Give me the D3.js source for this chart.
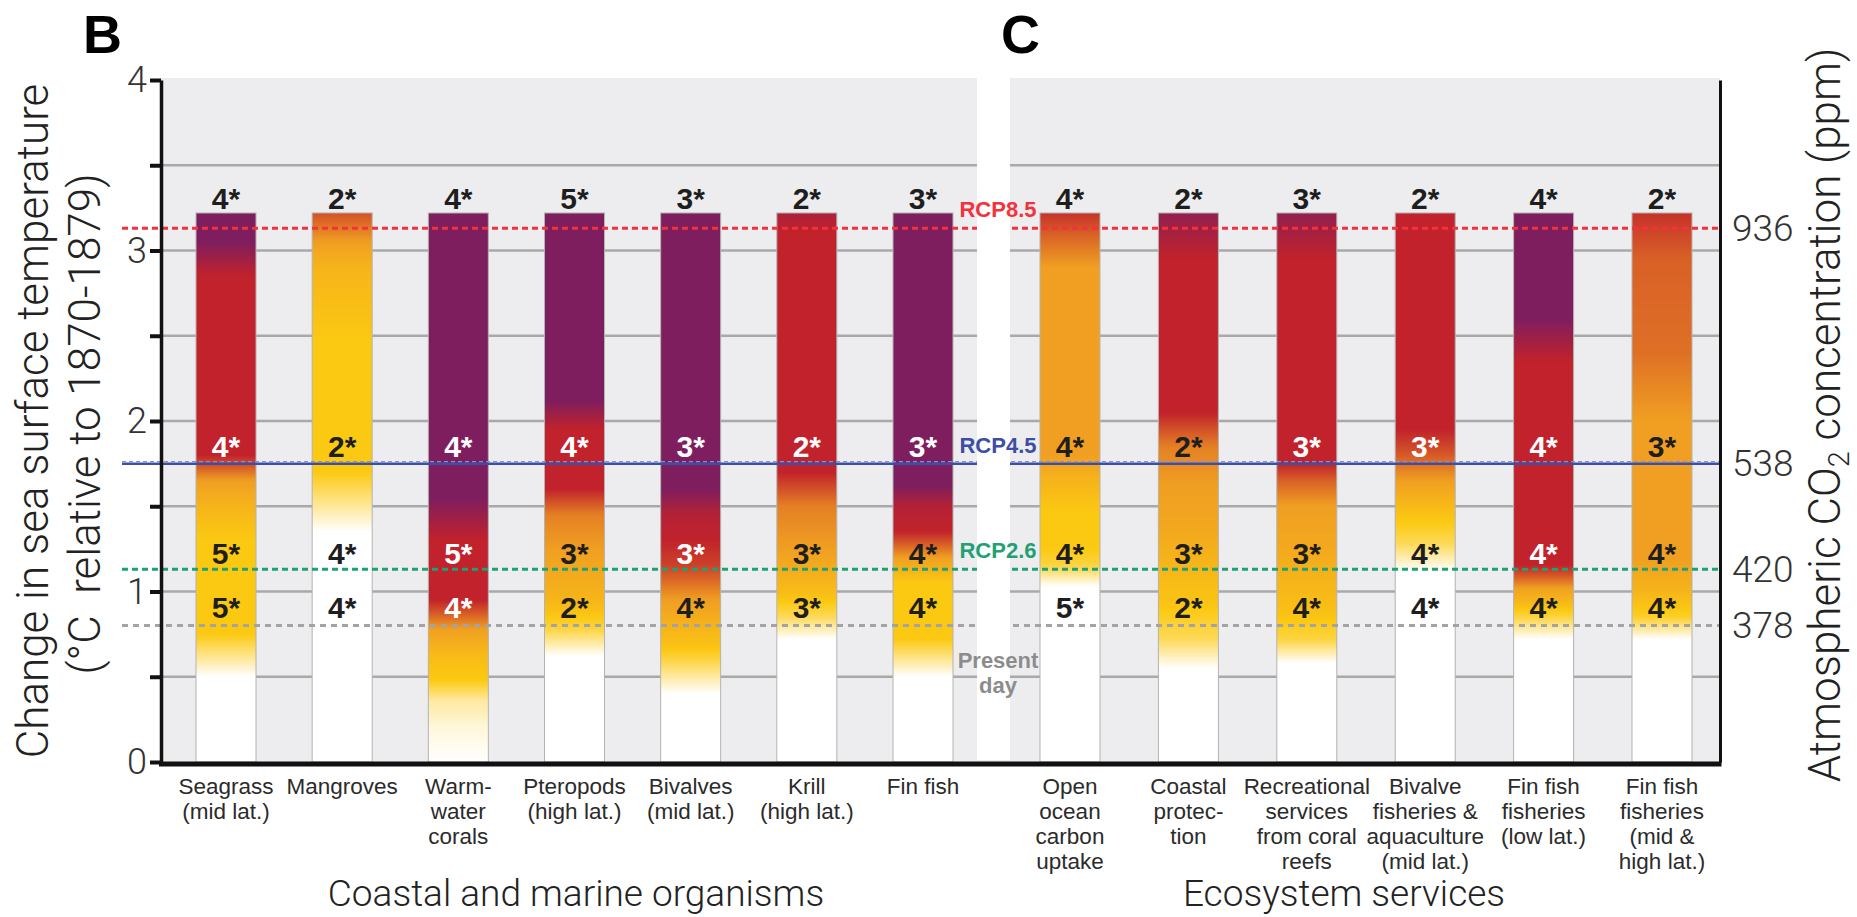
<!DOCTYPE html>
<html>
<head>
<meta charset="utf-8">
<script src="https://cdn.jsdelivr.net/npm/d3@7"></script>
<style>
  body { margin: 0; background: #fff; }
  text { font-family: "Liberation Sans", Arial, sans-serif; }
  .light { font-family: Roboto, "Liberation Sans", sans-serif; font-weight: 300; }
</style>
</head>
<body>
<script>
// ---- data ----
var organismLabels = ["Seagrass\n(mid lat.)", "Mangroves", "Warm-\nwater\ncorals", "Pteropods\n(high lat.)",
                      "Bivalves\n(mid lat.)", "Krill\n(high lat.)", "Fin fish"];
var serviceLabels = ["Open\nocean\ncarbon\nuptake", "Coastal\nprotec-\ntion", "Recreational\nservices\nfrom coral\nreefs",
                     "Bivalve\nfisheries &\naquaculture\n(mid lat.)", "Fin fish\nfisheries\n(low lat.)",
                     "Fin fish\nfisheries\n(mid &\nhigh lat.)"];

// scenarios: warming (°C) and matching CO2 (ppm)
var scenarioNames = ["RCP8.5", "RCP4.5", "RCP2.6", "Present day"];
var scenarioWarming = [3.13, 1.75, 1.13, 0.80];
var scenarioCO2 = ["936", "538", "420", "378"];
var projectionTop = 3.22;

// confidence levels (number of stars) at top of bar, RCP4.5, RCP2.6, present day
var confTop     = [4, 2, 4, 5, 3, 2, 3, 4, 2, 3, 2, 4, 2];
var confRcp45   = [4, 2, 4, 4, 3, 2, 3, 4, 2, 3, 3, 4, 3];
var confRcp26   = [5, 4, 5, 3, 3, 3, 4, 4, 3, 3, 4, 4, 4];
var confPresent = [5, 4, 4, 2, 4, 3, 4, 5, 2, 4, 4, 4, 4];

// risk transitions along each bar: [warming, risk] (0 undetectable, 1 moderate, 2 high, 3 very high)
var riskStops = [
  [[0,0],[0.5,0],[0.75,1],[1.3,1],[1.5,1.3],[1.65,1.6],[1.8,2],[2.85,2],[3.05,3],[3.22,3]],
  [[0,0],[1.35,0],[1.7,1],[2.45,1],[2.9,1.3],[3.05,1.6],[3.22,1.85]],
  [[0,0],[0.2,0.15],[0.36,0.4],[0.48,1],[0.62,1.2],[0.78,1.6],[0.95,2],[1.3,2],[1.55,3],[3.22,3]],
  [[0,0],[0.62,0],[0.78,0.8],[0.95,1.3],[1.25,1.6],[1.45,1.7],[1.6,2],[1.95,2],[2.12,3],[3.22,3]],
  [[0,0],[0.4,0],[0.55,0.6],[0.68,1.1],[0.95,1.6],[1.15,1.9],[1.3,2],[1.45,2.2],[1.6,3],[3.22,3]],
  [[0,0],[0.72,0],[0.85,0.7],[1.0,1.2],[1.25,1.6],[1.5,1.7],[1.7,2],[3.1,2],[3.22,2.3]],
  [[0,0],[0.5,0],[0.72,1],[1.05,1],[1.2,1.6],[1.35,2],[1.5,2.2],[1.62,3],[3.22,3]],
  [[0,0],[1.03,0],[1.15,0.8],[1.25,1],[1.45,1],[1.65,1.3],[1.8,1.6],[2.9,1.6],[3.05,1.75],[3.22,1.95]],
  [[0,0],[0.55,0],[0.72,0.7],[0.95,1.1],[1.4,1.5],[1.85,1.7],[2.05,2],[2.95,2],[3.22,2.7]],
  [[0,0],[0.58,0],[0.72,0.8],[0.9,1.15],[1.3,1.5],[1.5,1.6],[1.65,1.8],[1.75,2],[2.95,2],[3.22,2.7]],
  [[0,0],[1.12,0],[1.28,0.7],[1.45,1.1],[1.65,1.6],[1.82,1.85],[1.95,2],[3.22,2]],
  [[0,0],[0.72,0],[0.85,0.8],[0.95,1.3],[1.05,1.7],[1.15,2],[2.35,2],[2.6,3],[3.22,3]],
  [[0,0],[0.72,0],[0.85,0.9],[1.0,1.3],[1.2,1.6],[2.0,1.6],[2.4,1.75],[2.95,1.8],[3.22,1.95]]
];

// ---- layout ----
var W = 1857, H = 917;
var left = 161, right = 1720, gapL = 977, gapR = 1010, barW = 60;

var svg = d3.select("body").append("svg")
    .attr("width", W)
    .attr("height", H);

var y = d3.scaleLinear().domain([0, 4]).range([762, 80]);
var xB = d3.scalePoint().domain(organismLabels).range([226, 923]);
var xC = d3.scalePoint().domain(serviceLabels).range([1070, 1662]);

var riskColor = d3.scaleLinear()
    .domain([0, 1, 1.6, 2, 3])
    .range(["#ffffff", "#fcc912", "#f09f22", "#c1222b", "#7e1e5f"])
    .clamp(true);

var bars = organismLabels.map(function (c) { return {label: c, x: xB(c)}; })
    .concat(serviceLabels.map(function (c) { return {label: c, x: xC(c)}; }));
bars.forEach(function (b, i) {
    b.risk = d3.scaleLinear()
        .domain(riskStops[i].map(function (s) { return s[0]; }))
        .range(riskStops[i].map(function (s) { return s[1]; }))
        .clamp(true);
    b.conf = [confTop[i], confRcp45[i], confRcp26[i], confPresent[i]];
    b.id = "grad" + i;
});

// gray plot background
svg.append("rect")
    .attr("x", left).attr("y", y(4) - 2)
    .attr("width", right - left).attr("height", y(0) - y(4) + 2)
    .attr("fill", "#ededef");

// grid lines
svg.append("g").selectAll("line")
    .data(d3.range(0.5, 4, 0.5))
    .join("line")
    .attr("x1", left).attr("x2", right)
    .attr("y1", function (d) { return y(d); }).attr("y2", function (d) { return y(d); })
    .attr("stroke", "#a9a9a9").attr("stroke-width", 2.5);

// gradients for bars
var defs = svg.append("defs");
bars.forEach(function (b) {
    var g = defs.append("linearGradient")
        .attr("id", b.id)
        .attr("gradientUnits", "userSpaceOnUse")
        .attr("x1", 0).attr("x2", 0)
        .attr("y1", y(0)).attr("y2", y(projectionTop));
    d3.range(0, projectionTop + 0.001, 0.02).forEach(function (v) {
        g.append("stop")
            .attr("offset", Math.min(1, v / projectionTop))
            .attr("stop-color", riskColor(b.risk(v)));
    });
});

svg.append("g").selectAll("rect")
    .data(bars)
    .join("rect")
    .attr("x", function (d) { return d.x - barW / 2; })
    .attr("y", y(projectionTop))
    .attr("width", barW)
    .attr("height", y(0) - y(projectionTop))
    .attr("fill", function (d) { return "url(#" + d.id + ")"; })
    .attr("stroke", "#b3b3b3")
    .attr("stroke-width", 1);

// scenario lines
var lineColors = ["#f2323c", "#3d4ea6", "#1fa173", "#a3a3a3"];
var lineDash = ["6,4", null, "6,4", "6,5"];
scenarioWarming.forEach(function (v, i) {
    svg.append("line")
        .attr("x1", 122).attr("x2", right)
        .attr("y1", y(v)).attr("y2", y(v))
        .attr("stroke", lineColors[i])
        .attr("stroke-width", i === 1 ? 2.5 : 3)
        .attr("stroke-dasharray", lineDash[i]);
    if (i === 1) {
        svg.append("line")
            .attr("x1", 122).attr("x2", right)
            .attr("y1", y(v) - 2).attr("y2", y(v) - 2)
            .attr("stroke", "#8391cf").attr("stroke-width", 1.2)
            .attr("stroke-dasharray", "4,3");
    }
});

// white gap between the two panels
svg.append("rect")
    .attr("x", gapL).attr("y", y(4) - 4)
    .attr("width", gapR - gapL).attr("height", y(0) - y(4) + 2)
    .attr("fill", "#fff");

// left axis
var yAxis = svg.append("g")
    .attr("transform", "translate(" + left + ",0)")
    .call(d3.axisLeft(y)
        .tickValues(d3.range(0, 4.01, 0.5))
        .tickSize(11).tickSizeOuter(0).tickPadding(3)
        .tickFormat(function (d) { return d % 1 === 0 ? d : ""; }));
yAxis.select(".domain").attr("stroke", "#111").attr("stroke-width", 3.5);
yAxis.selectAll(".tick line").attr("stroke", "#111").attr("stroke-width", 4);
yAxis.selectAll(".tick text")
    .attr("class", "light").style("font-size", "36px").attr("fill", "#333");

// right axis with CO2 values
var yRight = svg.append("g")
    .attr("transform", "translate(" + right + ",0)")
    .call(d3.axisRight(y)
        .tickValues(scenarioWarming)
        .tickSize(0).tickSizeOuter(0).tickPadding(12)
        .tickFormat(function (d, i) { return scenarioCO2[i]; }));
yRight.select(".domain").attr("stroke", "#111").attr("stroke-width", 3);
yRight.selectAll(".tick text")
    .attr("class", "light").style("font-size", "37px").attr("fill", "#333");

// bottom axis line
svg.append("line")
    .attr("x1", left - 2).attr("x2", right + 1.5)
    .attr("y1", y(0) + 2).attr("y2", y(0) + 2)
    .attr("stroke", "#111").attr("stroke-width", 5);

// scenario labels in the gap
var gapMid = 998;
scenarioNames.slice(0, 3).forEach(function (n, i) {
    svg.append("text")
        .attr("x", gapMid).attr("y", y(scenarioWarming[i]) - 11)
        .attr("text-anchor", "middle")
        .style("font-size", "22px").style("font-weight", "bold")
        .attr("fill", lineColors[i])
        .text(n);
});
var pd = svg.append("text")
    .attr("x", gapMid).attr("y", y(scenarioWarming[3]) + 42)
    .attr("text-anchor", "middle")
    .style("font-size", "22px").style("font-weight", "bold")
    .attr("fill", "#8c8c8c");
scenarioNames[3].split(" ").forEach(function (w, k) {
    pd.append("tspan").attr("x", gapMid).attr("dy", k === 0 ? 0 : 25).text(w);
});

// confidence labels
var levelValues = [projectionTop, scenarioWarming[1], scenarioWarming[2], scenarioWarming[3]];
var levelOffsets = [-4, -7, -5, -8];
var confG = svg.append("g");
bars.forEach(function (b) {
    levelValues.forEach(function (v, k) {
        var ty = y(v) + levelOffsets[k];
        var fill = "#1e1e1e";
        if (k > 0) {
            var c = d3.rgb(riskColor(b.risk(y.invert(ty - 11))));
            var lum = (0.299 * c.r + 0.587 * c.g + 0.114 * c.b) / 255;
            if (lum < 0.5) fill = "#ffffff";
        }
        confG.append("text")
            .attr("x", b.x).attr("y", ty)
            .attr("text-anchor", "middle")
            .style("font-size", "30px").style("font-weight", "bold")
            .attr("fill", fill)
            .text(b.conf[k] + "*");
    });
});

// category labels
svg.append("g").selectAll("text")
    .data(bars)
    .join("text")
    .attr("x", function (d) { return d.x; })
    .attr("y", 794)
    .attr("text-anchor", "middle")
    .style("font-size", "22.5px")
    .attr("fill", "#2b2b2b")
    .each(function (d) {
        var t = d3.select(this);
        d.label.split("\n").forEach(function (line, k) {
            t.append("tspan").attr("x", d.x).attr("dy", k === 0 ? 0 : 25).text(line);
        });
    });

// group titles
svg.append("text").attr("class", "light")
    .attr("x", 576).attr("y", 906).attr("text-anchor", "middle")
    .style("font-size", "37px").attr("fill", "#222")
    .text("Coastal and marine organisms");
svg.append("text").attr("class", "light")
    .attr("x", 1344).attr("y", 906).attr("text-anchor", "middle")
    .style("font-size", "37px").attr("fill", "#222")
    .text("Ecosystem services");

// panel letters
svg.append("text").attr("x", 83).attr("y", 53)
    .style("font-size", "54px").style("font-weight", "bold").attr("fill", "#000").text("B");
svg.append("text").attr("x", 1001).attr("y", 53)
    .style("font-size", "54px").style("font-weight", "bold").attr("fill", "#000").text("C");

// y axis titles
svg.append("text").attr("class", "light")
    .attr("transform", "translate(48,421) rotate(-90)")
    .attr("text-anchor", "middle")
    .style("font-size", "44px").attr("fill", "#222")
    .text("Change in sea surface temperature");
svg.append("text").attr("class", "light")
    .attr("transform", "translate(100,424) rotate(-90)")
    .attr("text-anchor", "middle")
    .style("font-size", "44px").attr("fill", "#222")
    .style("white-space", "pre")
    .text("(°C  relative to 1870-1879)");

var rt = svg.append("text").attr("class", "light")
    .attr("transform", "translate(1840,415) rotate(-90)")
    .attr("text-anchor", "middle")
    .style("font-size", "44px").attr("fill", "#222");
rt.append("tspan").text("Atmospheric CO");
rt.append("tspan").attr("dy", 9).style("font-size", "29px").text("2");
rt.append("tspan").attr("dy", -9).text(" concentration (ppm)");
</script>
</body>
</html>
